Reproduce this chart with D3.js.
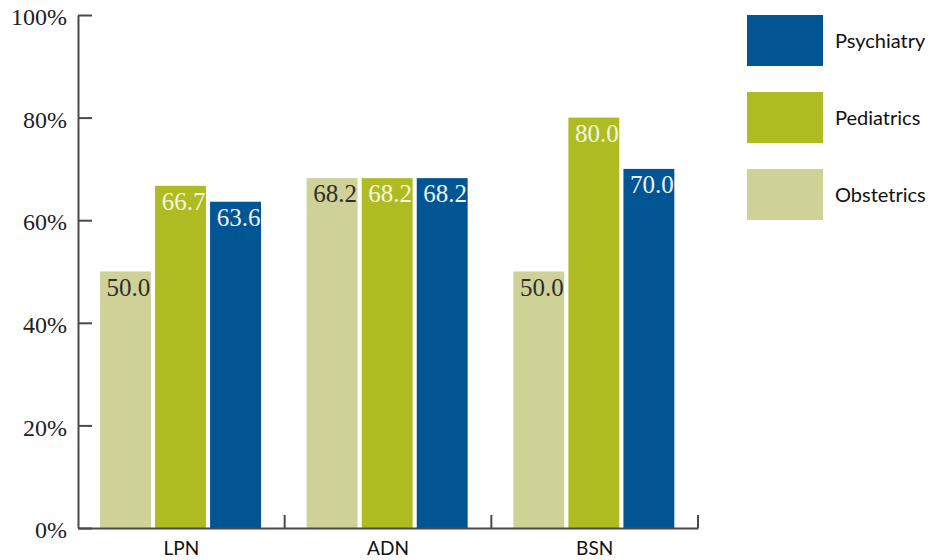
<!DOCTYPE html>
<html>
<head>
<meta charset="utf-8">
<script src="https://cdn.jsdelivr.net/npm/d3@7"></script>
<style>
  body { margin: 0; background: #fff; }
</style>
</head>
<body>
<div id="chart"></div>
<script>
// chart data
var categories = ["LPN", "ADN", "BSN"];
var series = ["Obstetrics", "Pediatrics", "Psychiatry"];
var obstetrics = [50.0, 68.2, 50.0];
var pediatrics = [66.7, 68.2, 80.0];
var psychiatry = [63.6, 68.2, 70.0];
var yTicks = [0, 20, 40, 60, 80, 100];
var legendOrder = ["Psychiatry", "Pediatrics", "Obstetrics"];

var colors = {Obstetrics: "#cfd296", Pediatrics: "#aebc22", Psychiatry: "#015592"};
var labelColors = {Obstetrics: "#2e2e2e", Pediatrics: "#f4f4e4", Psychiatry: "#eef2f6"};

var values = {Obstetrics: obstetrics, Pediatrics: pediatrics, Psychiatry: psychiatry};

var width = 933, height = 560;
var svg = d3.select("#chart").append("svg")
    .attr("width", width)
    .attr("height", height)
    .append("g");

var xScale = d3.scaleBand()
  .domain(categories)
  .range([78, 698]);

var xInner = d3.scaleBand()
  .domain(series)
  .range([22, 183])
  .paddingInner(0.075);

var yScale = d3.scaleLinear()
  .domain([0, 100])
  .range([528, 15]);

// bars
var groups = svg.selectAll(".group")
  .data(categories)
 .enter()
  .append("g")
  .attr("class", "group")
  .attr("transform", function(d) { return "translate(" + xScale(d) + ",0)"; });

groups.selectAll("rect")
  .data(function(d, i) { return series.map(function(s) { return {s: s, v: values[s][i]}; }); })
 .enter()
  .append("rect")
  .attr("x", function(d) { return xInner(d.s); })
  .attr("y", function(d) { return yScale(d.v); })
  .attr("width", xInner.bandwidth())
  .attr("height", function(d) { return yScale(0) - yScale(d.v); })
  .style("fill", function(d) { return colors[d.s]; });

groups.selectAll(".val")
  .data(function(d, i) { return series.map(function(s) { return {s: s, v: values[s][i]}; }); })
 .enter()
  .append("text")
  .attr("class", "val")
  .attr("text-anchor", "middle")
  .attr("x", function(d) { return xInner(d.s) + xInner.bandwidth() / 2 + 3; })
  .attr("y", function(d) { return yScale(d.v) + 24; })
  .text(function(d) { return d.v.toFixed(1); })
  .style("fill", function(d) { return labelColors[d.s]; })
  .style("font-size", "25px")
  .style("font-family", "'Liberation Serif', serif");

// y axis
var yAxis = d3.axisLeft()
  .scale(yScale)
  .tickValues(yTicks)
  .tickSizeInner(-14)
  .tickSizeOuter(0)
  .tickPadding(11)
  .tickFormat(function(d) { return d + "%"; });

svg.append("g")
  .attr("class", "y axis")
  .attr("transform", "translate(" + xScale.range()[0] + ",0)")
  .call(yAxis);

svg.select(".y.axis").selectAll("text")
  .attr("dy", "0.4em")
  .style("fill", "#222")
  .style("font-size", "24px")
  .style("font-family", "'Liberation Serif', serif");

// x axis
var xAxis = d3.axisBottom()
  .scale(xScale)
  .tickSize(0)
  .tickPadding(14);

svg.append("g")
  .attr("class", "x axis")
  .attr("transform", "translate(0," + yScale(0) + ")")
  .call(xAxis);

svg.select(".x.axis").selectAll("text")
  .style("fill", "#111")
  .style("font-size", "19px")
  .style("font-family", "Lato, sans-serif");

svg.selectAll(".sep")
  .data(categories)
 .enter()
  .append("line")
  .attr("class", "sep")
  .attr("x1", function(d) { return xScale(d) + xScale.bandwidth(); })
  .attr("x2", function(d) { return xScale(d) + xScale.bandwidth(); })
  .attr("y1", yScale(0))
  .attr("y2", yScale(0) - 13);

svg.selectAll(".axis path, .axis line, .sep")
  .style("stroke", "#4a4a4a")
  .style("stroke-width", 2);

// legend
var legend = svg.selectAll(".legend")
  .data(legendOrder)
 .enter()
  .append("g")
  .attr("class", "legend")
  .attr("transform", function(d, i) { return "translate(747," + (15 + i * 77) + ")"; });

legend.append("rect")
  .attr("width", 76)
  .attr("height", 51)
  .style("fill", function(d) { return colors[d]; });

legend.append("text")
  .attr("x", 88)
  .attr("y", 33)
  .text(function(d) { return d; })
  .style("fill", "#111")
  .style("font-size", "20px")
  .style("font-family", "Lato, sans-serif");
</script>
</body>
</html>
